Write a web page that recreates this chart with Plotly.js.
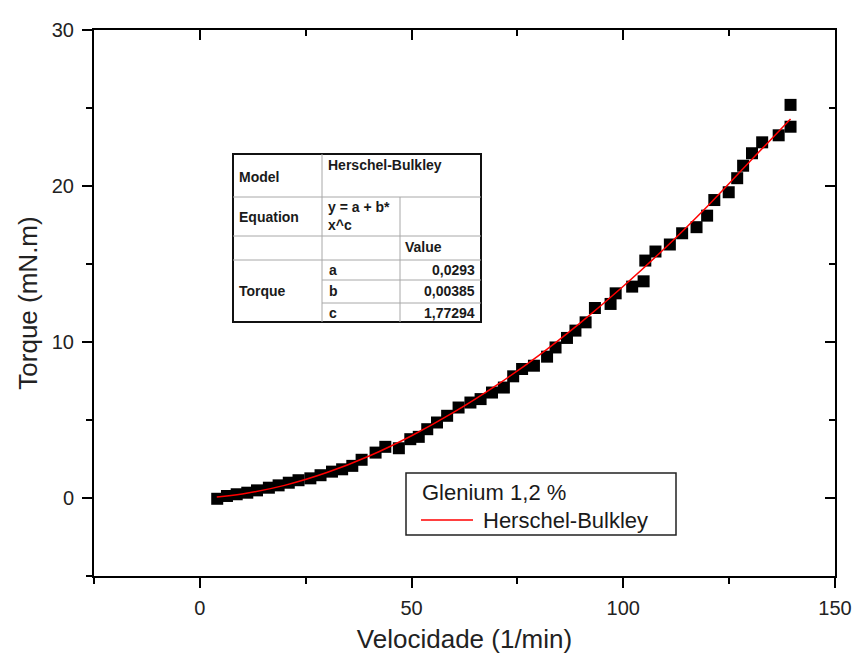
<!DOCTYPE html>
<html><head><meta charset="utf-8">
<script src="https://cdn.plot.ly/plotly-3.0.1.min.js"></script>
<style>html,body{margin:0;padding:0;background:#fff;} #chart{width:858px;height:659px;}</style>
</head><body><div id="chart"></div>
<script>
// ---- data ----
const velocidade = [4.1, 6.4, 8.7, 11.2, 13.5, 16.3, 18.6, 21.0, 23.3, 26.1, 28.5, 31.2, 33.6, 36.0, 38.2,
  41.5, 43.8, 47.0, 49.7, 51.7, 53.7, 56.0, 58.4, 61.1, 63.9, 66.3, 69.0, 71.8, 74.0, 76.1, 78.9,
  82.0, 84.0, 86.7, 88.7, 91.1, 93.3, 97.0, 98.2, 102.1, 104.8, 105.2, 107.6, 111.0, 113.9, 117.3,
  119.8, 121.5, 124.9, 126.9, 128.3, 130.4, 132.8, 136.7, 139.5, 139.5];
const torque = [-0.05, 0.13, 0.24, 0.34, 0.49, 0.66, 0.81, 0.98, 1.14, 1.26, 1.46, 1.69, 1.84, 2.06, 2.45,
  2.91, 3.28, 3.19, 3.77, 3.92, 4.41, 4.84, 5.27, 5.80, 6.12, 6.34, 6.76, 7.08, 7.8, 8.27, 8.48,
  9.06, 9.65, 10.26, 10.73, 11.26, 12.18, 12.44, 13.12, 13.55, 13.89, 15.22, 15.8, 16.25, 16.97, 17.36,
  18.1, 19.1, 19.6, 20.5, 21.3, 22.1, 22.8, 23.25, 23.8, 25.2];
const fitVelocidade = [4, 10, 20, 30, 40, 50, 60, 70, 80, 90, 100, 110, 120, 130, 139.5];
const fitTorque = [0.07, 0.26, 0.81, 1.63, 2.69, 3.99, 5.50, 7.22, 9.13, 11.26, 13.57, 16.06, 18.74, 21.60, 24.3];
const xTickVals = [0, 50, 100, 150];
const yTickVals = [0, 10, 20, 30];
const seriesName = 'Glenium 1,2 %';
const fitName = 'Herschel-Bulkley';
const paramNames = ['a', 'b', 'c'];
const paramValues = ['0,0293', '0,00385', '1,77294'];

// ---- layout helpers (pixel -> paper) ----
const L = 94, R = 835, T = 30, B = 576;
const px = x => (x - L) / (R - L);
const py = y => (B - y) / (B - T);
const FONT = 'Arial, Liberation Sans, sans-serif';

const traces = [
  { x: velocidade, y: torque, type: 'scatter', mode: 'markers', name: seriesName, showlegend: false,
    marker: { symbol: 'square', size: 12, color: '#000' } },
  { x: fitVelocidade, y: fitTorque, type: 'scatter', mode: 'lines', name: fitName, showlegend: false,
    line: { color: '#ff0000', width: 1.5, shape: 'spline' } }
];

const shapes = [];
const annotations = [];
function seg(x0, y0, x1, y1, color, w) {
  shapes.push({ type: 'line', xref: 'paper', yref: 'paper', x0: px(x0), y0: py(y0), x1: px(x1), y1: py(y1),
    line: { color: color, width: w } });
}
function txt(x, y, s, anchor, size, bold) {
  annotations.push({ xref: 'paper', yref: 'paper', x: px(x), y: py(y), text: bold ? '<b>' + s + '</b>' : s,
    showarrow: false, xanchor: anchor || 'left', yanchor: 'middle',
    font: { family: FONT, size: size, color: '#1a1a1a' } });
}

// ---- fit-results table ----
const tL = 233, tR = 481, tT = 154, tB = 322, c1 = 322, c2 = 400;
const rY = [197, 236, 260, 280, 303];
const gray = '#a8a8a8';
shapes.push({ type: 'rect', xref: 'paper', yref: 'paper', x0: px(tL), y0: py(tB), x1: px(tR), y1: py(tT),
  fillcolor: '#fff', line: { color: '#111', width: 2 } });
seg(tL, rY[0], tR, rY[0], gray, 1);
seg(tL, rY[1], tR, rY[1], gray, 1);
seg(tL, rY[2], tR, rY[2], gray, 1);
seg(c1, rY[3], tR, rY[3], gray, 1);
seg(c1, rY[4], tR, rY[4], gray, 1);
seg(c1, tT, c1, tB, gray, 1);
seg(c2, rY[0], c2, tB, gray, 1);
txt(237, 177, 'Model', 'left', 14, true);
txt(326, 165, fitName, 'left', 14, true);
txt(237, 217, 'Equation', 'left', 14, true);
txt(326, 207, 'y = a + b*', 'left', 14, true);
txt(326, 225, 'x^c', 'left', 14, true);
txt(403, 247, 'Value', 'left', 14, true);
txt(237, 291, 'Torque', 'left', 14, true);
const rowMid = [270, 291, 313];
paramNames.forEach((n, i) => txt(327, rowMid[i], n, 'left', 14, true));
paramValues.forEach((v, i) => txt(477, rowMid[i], v, 'right', 14, true));

// ---- legend box ----
shapes.push({ type: 'rect', xref: 'paper', yref: 'paper', x0: px(406), y0: py(535), x1: px(676), y1: py(473),
  fillcolor: '#fff', line: { color: '#222', width: 1.5 } });
seg(421, 520, 473, 520, '#ff0000', 1.5);
txt(420, 492, seriesName, 'left', 22, false);
txt(481, 520, fitName, 'left', 22, false);

const axFont = { family: FONT, size: 20, color: '#222' };
const layout = {
  width: 858, height: 659,
  margin: { l: L, r: 858 - R, t: T, b: 659 - B, pad: 0 },
  paper_bgcolor: '#fff', plot_bgcolor: '#fff',
  font: { family: FONT, color: '#222' },
  showlegend: false,
  xaxis: {
    range: [-25, 150], tickvals: xTickVals, ticks: 'outside', ticklen: 10, tickwidth: 2, tickcolor: '#000',
    minor: { dtick: 25, tick0: 0, ticks: 'outside', ticklen: 6, tickwidth: 2, tickcolor: '#000' },
    showline: true, linecolor: '#000', linewidth: 2, showgrid: false, zeroline: false,
    tickfont: axFont, ticklabelstandoff: 3, automargin: false,
    title: { text: 'Velocidade (1/min)', font: { family: FONT, size: 26, color: '#222' }, standoff: 12 }
  },
  yaxis: {
    range: [-5, 30], tickvals: yTickVals, ticks: 'outside', ticklen: 10, tickwidth: 2, tickcolor: '#000',
    minor: { dtick: 5, tick0: 0, ticks: 'outside', ticklen: 6, tickwidth: 2, tickcolor: '#000' },
    showline: true, linecolor: '#000', linewidth: 2, showgrid: false, zeroline: false,
    tickfont: axFont, ticklabelstandoff: 4, automargin: false,
    title: { text: 'Torque (mN.m)', font: { family: FONT, size: 26, color: '#222' }, standoff: 7 }
  },
  xaxis2: {
    overlaying: 'x', side: 'top', anchor: 'y', range: [-25, 150], tickvals: xTickVals, ticks: 'inside',
    ticklen: 10, tickwidth: 2, tickcolor: '#000', showticklabels: false,
    minor: { dtick: 25, tick0: 0, ticks: 'inside', ticklen: 6, tickwidth: 2, tickcolor: '#000' },
    showline: true, linecolor: '#000', linewidth: 2, showgrid: false, zeroline: false
  },
  yaxis2: {
    overlaying: 'y', side: 'right', anchor: 'x', range: [-5, 30], tickvals: yTickVals, ticks: 'inside',
    ticklen: 10, tickwidth: 2, tickcolor: '#000', showticklabels: false,
    minor: { dtick: 5, tick0: 0, ticks: 'inside', ticklen: 6, tickwidth: 2, tickcolor: '#000' },
    showline: true, linecolor: '#000', linewidth: 2, showgrid: false, zeroline: false
  },
  shapes: shapes,
  annotations: annotations
};

// invisible trace to activate the mirrored axes
traces.push({ x: [null], y: [null], xaxis: 'x2', yaxis: 'y2', showlegend: false, hoverinfo: 'skip', type: 'scatter', mode: 'markers' });

Plotly.newPlot('chart', traces, layout, { displayModeBar: false, staticPlot: true });
</script>
</body></html>
